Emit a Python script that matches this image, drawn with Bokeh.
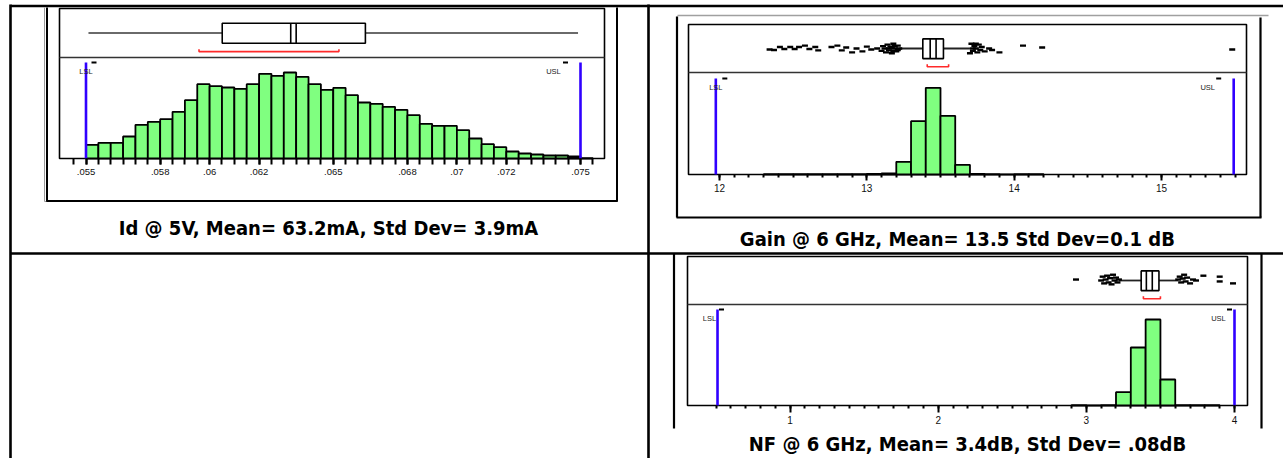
from bokeh.plotting import figure
from bokeh.models import Range1d, LinearAxis, FixedTicker, ColumnDataSource
from bokeh.core.properties import value
from bokeh.embed import file_html
from bokeh.resources import INLINE

# ------------------------------------------------------------------ data
# Id @ 5V histogram (A)
id_bin_left = [0.0550, 0.0555, 0.0560, 0.0565, 0.0570, 0.0575, 0.0580, 0.0585, 0.0590, 0.0595,
               0.0600, 0.0605, 0.0610, 0.0615, 0.0620, 0.0625, 0.0630, 0.0635, 0.0640, 0.0645,
               0.0650, 0.0655, 0.0660, 0.0665, 0.0670, 0.0675, 0.0680, 0.0685, 0.0690, 0.0695,
               0.0700, 0.0705, 0.0710, 0.0715, 0.0720, 0.0725, 0.0730, 0.0735, 0.0740, 0.0745,
               0.0750]
id_counts = [41, 47, 47, 66, 101, 110, 118, 140, 175, 223,
             217, 213, 209, 223, 254, 248, 258, 245, 223, 206,
             212, 190, 168, 164, 155, 146, 130, 104, 98, 98,
             85, 60, 43, 34, 21, 15, 12, 9, 9, 6,
             1]
id_bin_width = 0.0005
id_spec = [0.055, 0.075]
id_whiskers = [0.0551, 0.0749]
id_quartiles = [0.06051, 0.06630]
id_median_notch = [0.06328, 0.06350]
id_shortest_half = [0.05957, 0.06523]
id_outliers_x = []
id_outliers_y = []
id_tick_values = [0.055, 0.058, 0.06, 0.062, 0.065, 0.068, 0.07, 0.072, 0.075]
id_tick_labels = [".055", ".058", ".06", ".062", ".065", ".068", ".07", ".072", ".075"]
id_title = "Id @ 5V, Mean= 63.2mA, Std Dev= 3.9mA"

# Gain @ 6 GHz histogram (dB)
gain_bin_left = [12.3, 12.4, 12.5, 12.6, 12.7, 12.8, 12.9, 13.0, 13.1, 13.2,
                 13.3, 13.4, 13.5, 13.6, 13.7, 13.8, 13.9, 14.0, 14.1]
gain_counts = [3, 3, 3, 3, 3, 3, 4, 5, 12, 127,
               533, 867, 587, 97, 6, 4, 0, 3, 3]
gain_bin_width = 0.1
gain_spec = [11.975, 15.49]
gain_whiskers = [13.22, 13.70]
gain_quartiles = [13.38, 13.52]
gain_median_notch = [13.43, 13.47]
gain_shortest_half = [13.41, 13.555]
gain_outliers_x = [12.34, 12.37, 12.41, 12.44, 12.48, 12.51, 12.54, 12.58, 12.61, 12.65,
                   12.67, 12.76, 12.80, 12.83, 12.86, 12.90, 12.93, 12.97, 13.00, 13.03,
                   13.07, 13.10, 13.11, 13.12, 13.13, 13.14, 13.15, 13.16, 13.17, 13.18,
                   13.19, 13.20, 13.21, 13.22, 13.15, 13.18, 13.19, 13.21, 13.17,
                   13.70, 13.71, 13.72, 13.73, 13.74, 13.75, 13.76, 13.77, 13.78, 13.72,
                   13.74, 13.80, 13.83, 13.85, 13.90, 14.06, 14.19, 15.48]
gain_outliers_y = [0.48, 0.47, 0.53, 0.49, 0.53, 0.49, 0.53, 0.56, 0.49, 0.53,
                   0.46, 0.53, 0.56, 0.46, 0.52, 0.42, 0.50, 0.44, 0.54, 0.48,
                   0.50, 0.45, 0.55, 0.50, 0.42, 0.58, 0.46, 0.54, 0.40, 0.60,
                   0.50, 0.44, 0.56, 0.50, 0.50, 0.45, 0.55, 0.47, 0.52,
                   0.40, 0.60, 0.45, 0.55, 0.50, 0.42, 0.58, 0.47, 0.53, 0.50,
                   0.60, 0.44, 0.50, 0.47, 0.42, 0.56, 0.52, 0.48]
gain_tick_values = [12, 13, 14, 15]
gain_tick_labels = ["12", "13", "14", "15"]
gain_title = "Gain @ 6 GHz, Mean= 13.5  Std Dev=0.1 dB"

# NF @ 6 GHz histogram (dB)
nf_bin_left = [2.9, 3.0, 3.1, 3.2, 3.3, 3.4, 3.5, 3.6, 3.7, 3.8]
nf_counts = [4, 0, 4, 133, 580, 860, 260, 4, 3, 3]
nf_bin_width = 0.1
nf_spec = [0.51, 4.0]
nf_whiskers = [3.22, 3.62]
nf_quartiles = [3.37, 3.49]
nf_median_notch = [3.405, 3.445]
nf_shortest_half = [3.385, 3.50]
nf_outliers_x = [2.93, 3.10, 3.11, 3.12, 3.13, 3.14, 3.15, 3.16, 3.17, 3.18, 3.19, 3.20, 3.21, 3.22,
                 3.62, 3.63, 3.64, 3.65, 3.66, 3.67, 3.68, 3.70, 3.72, 3.74, 3.79, 3.90, 3.90, 3.99]
nf_outliers_y = [0.52, 0.50, 0.58, 0.44, 0.52, 0.60, 0.46, 0.55, 0.42, 0.62, 0.50, 0.56, 0.46, 0.52,
                 0.52, 0.58, 0.46, 0.54, 0.62, 0.48, 0.56, 0.44, 0.52, 0.50, 0.60, 0.58, 0.48, 0.44]
nf_tick_values = [1, 2, 3, 4]
nf_tick_labels = ["1", "2", "3", "4"]
nf_title = "NF @ 6 GHz, Mean= 3.4dB, Std Dev= .08dB"

# ------------------------------------------------------------------ layout (page pixels)
X0, X1, Y0, Y1 = 0, 1283, 0, 458
W, H = X1 - X0, Y1 - Y0

GREEN = "#80ff80"
BLUE = "#3000ff"
RED = "#ff2a2a"
NARROW = "DejaVu Sans Condensed"
ARIAL = "Liberation Sans"

p = figure(width=W, height=H, x_range=Range1d(X0, X1), y_range=Range1d(Y1, Y0),
           x_axis_type=None, y_axis_type=None, toolbar_location=None,
           output_backend="svg", min_border=0, title=None)
p.outline_line_color = None
p.background_fill_color = "white"
p.border_fill_color = "white"

# table lines
p.segment(x0=[10, 10, 648, 10], y0=[5.5, 4, 4, 253], x1=[1283, 10, 648, 1283], y1=[5.5, 458, 458, 253],
          line_color="black", line_width=2.6)

# chart frames
p.segment(x0=[44, 617, 44], y0=[7, 7, 201], x1=[44, 617, 617], y1=[201, 201, 201],
          line_color="#9a9a9a", line_width=1)
p.segment(x0=[46.5, 616.5, 46], y0=[7, 7, 200.5], x1=[46.5, 616.5, 617], y1=[201, 201, 200.5],
          line_color="black", line_width=2)
p.segment(x0=[677], y0=[15], x1=[1268], y1=[15], line_color="#a0a0a0", line_width=1.5)
p.segment(x0=[676.5, 1260, 676], y0=[16, 17, 217], x1=[676.5, 1260, 1261], y1=[217, 217, 217],
          line_color="black", line_width=2.2)
p.segment(x0=[673.5, 1261], y0=[253, 253], x1=[673.5, 1261], y1=[428, 428],
          line_color="black", line_width=2.2)

charts = [
    dict(name="id", box=(59, 604, 8, 158), div=57, xmap=(85.5, 0.055, 580.0, 0.075), cpp=3.0,
         spec_top=62, bins=id_bin_left, counts=id_counts, bw=id_bin_width, spec=id_spec,
         wh=id_whiskers, q=id_quartiles, notch=id_median_notch, sh=id_shortest_half,
         ox=id_outliers_x, oy=id_outliers_y, ticks=id_tick_values, labels=id_tick_labels,
         minor=[round(0.0545 + 0.0005 * i, 4) for i in range(43)], bounds=(0.0545, 0.0755),
         major_out=6, minor_out=6, tick_font="9.5px", standoff=4,
         lsl_dx=0, usl_dx=-27, lsl_dash=8, usl_dash=-15, whisker_color="#6a6a6a", whisker_w=2.2,
         title=id_title, title_xy=(328, 227)),
    dict(name="gain", box=(688, 1246, 24, 174), div=72, xmap=(719.0, 12.0, 1161.0, 15.0), cpp=10.0,
         spec_top=78, bins=gain_bin_left, counts=gain_counts, bw=gain_bin_width, spec=gain_spec,
         wh=gain_whiskers, q=gain_quartiles, notch=gain_median_notch, sh=gain_shortest_half,
         ox=gain_outliers_x, oy=gain_outliers_y, ticks=gain_tick_values, labels=gain_tick_labels,
         minor=[round(12.0 + 0.1 * i, 2) for i in range(36)], bounds=(12.0, 15.5),
         major_out=6, minor_out=3, tick_font="10px", standoff=3,
         lsl_dx=0, usl_dx=-26, lsl_dash=9, usl_dash=-15, whisker_color="#222222", whisker_w=1.8,
         title=gain_title, title_xy=(960, 238)),
    dict(name="nf", box=(687, 1247, 256, 405), div=304, xmap=(789.6, 1.0, 1234.0, 4.0), cpp=10.0,
         spec_top=309, bins=nf_bin_left, counts=nf_counts, bw=nf_bin_width, spec=nf_spec,
         wh=nf_whiskers, q=nf_quartiles, notch=nf_median_notch, sh=nf_shortest_half,
         ox=nf_outliers_x, oy=nf_outliers_y, ticks=nf_tick_values, labels=nf_tick_labels,
         minor=[round(0.5 + 0.1 * i, 2) for i in range(36)], bounds=(0.5, 4.0),
         major_out=7, minor_out=3, tick_font="10px", standoff=3,
         lsl_dx=-8, usl_dx=-16, lsl_dash=4, usl_dash=-5, whisker_color="#222222", whisker_w=1.8,
         title=nf_title, title_xy=(967, 443)),
]

for c in charts:
    n = c["name"]
    px0, v0, px1, v1 = c["xmap"]
    sx = (px1 - px0) / (v1 - v0)
    p.extra_x_ranges[n + "_x"] = Range1d(v0 - (px0 - X0) / sx, v1 + (X1 - px1) / sx)
    base, cpp = c["box"][3], c["cpp"]
    p.extra_y_ranges[n + "_h"] = Range1d(-(Y1 - base) * cpp, (base - Y0) * cpp)
    div = c["div"]
    ph = div - c["box"][2]
    p.extra_y_ranges[n + "_b"] = Range1d(-(Y1 - div) / ph, (div - Y0) / ph)
    xr, hr, br = n + "_x", n + "_h", n + "_b"

    # plot box and divider
    L, R, T, B = c["box"]
    p.quad(left=[L], right=[R], top=[T], bottom=[B], fill_color=None,
           line_color="black", line_width=1.6)
    p.segment(x0=[L], x1=[R], y0=[div], y1=[div], line_color="#333333", line_width=1.6)

    # histogram bars
    src = ColumnDataSource(dict(left=c["bins"], right=[b + c["bw"] for b in c["bins"]],
                                top=c["counts"]))
    p.quad(left="left", right="right", bottom=0, top="top", source=src,
           fill_color=GREEN, line_color="black", line_width=1.8,
           x_range_name=xr, y_range_name=hr)

    # spec limits
    top_units = (base - c["spec_top"]) * cpp
    p.segment(x0=c["spec"], x1=c["spec"], y0=[0, 0], y1=[top_units, top_units],
              line_color=BLUE, line_width=2.6, x_range_name=xr, y_range_name=hr)
    p.text(x=[c["spec"][0]], y=[top_units], text=["LSL"], x_offset=c["lsl_dx"], y_offset=9,
           text_align="center", text_baseline="middle", text_font_size="7.5px",
           text_font=value(ARIAL), text_color="#222222", x_range_name=xr, y_range_name=hr)
    p.text(x=[c["spec"][1]], y=[top_units], text=["USL"], x_offset=c["usl_dx"], y_offset=9,
           text_align="center", text_baseline="middle", text_font_size="7.5px",
           text_font=value(ARIAL), text_color="#222222", x_range_name=xr, y_range_name=hr)
    p.scatter(x=[c["spec"][0] + c["lsl_dash"] / sx, c["spec"][1] + c["usl_dash"] / sx],
              y=[top_units, top_units], marker="dash", size=5, line_width=2,
              line_color="black", x_range_name=xr, y_range_name=hr)

    # box plot
    q1, q3 = c["q"]
    w0, w1 = c["wh"]
    p.segment(x0=[w0, q3], x1=[q1, w1], y0=[0.5, 0.5], y1=[0.5, 0.5],
              line_color=c["whisker_color"], line_width=c["whisker_w"],
              x_range_name=xr, y_range_name=br)
    p.quad(left=[q1], right=[q3], bottom=[0.29], top=[0.70], fill_color="white",
           line_color="black", line_width=1.6, x_range_name=xr, y_range_name=br)
    p.segment(x0=c["notch"], x1=c["notch"], y0=[0.29, 0.29], y1=[0.70, 0.70],
              line_color="black", line_width=1.6, x_range_name=xr, y_range_name=br)
    a, b = c["sh"]
    p.multi_line(xs=[[a, a, b, b]], ys=[[0.17, 0.12, 0.12, 0.17]], line_color=RED,
                 line_width=1.6, x_range_name=xr, y_range_name=br)
    if c["ox"]:
        p.scatter(x=c["ox"], y=c["oy"], marker="dash", size=6, line_width=2.4,
                  line_color="black", x_range_name=xr, y_range_name=br)

    # axis
    ax = LinearAxis(x_range_name=xr, y_range_name=hr, fixed_location=0, bounds=c["bounds"],
                    ticker=FixedTicker(ticks=c["ticks"], minor_ticks=c["minor"]),
                    major_label_overrides={t: s for t, s in zip(c["ticks"], c["labels"])},
                    axis_line_color=None, major_tick_in=0, minor_tick_in=0,
                    major_tick_out=c["major_out"], minor_tick_out=c["minor_out"],
                    major_tick_line_width=2, minor_tick_line_width=2,
                    major_tick_line_color="black", minor_tick_line_color="black",
                    major_label_text_font_size=c["tick_font"], major_label_text_font=ARIAL,
                    major_label_text_color="#111111", major_label_standoff=c["standoff"])
    p.add_layout(ax, "below")

    # caption
    p.text(x=[c["title_xy"][0]], y=[c["title_xy"][1]], text=[c["title"]],
           text_align="center", text_baseline="middle", text_font_size="20px",
           text_font=value(NARROW), text_font_style="bold", text_color="black")

open("out.html", "w").write(file_html(p, INLINE))
